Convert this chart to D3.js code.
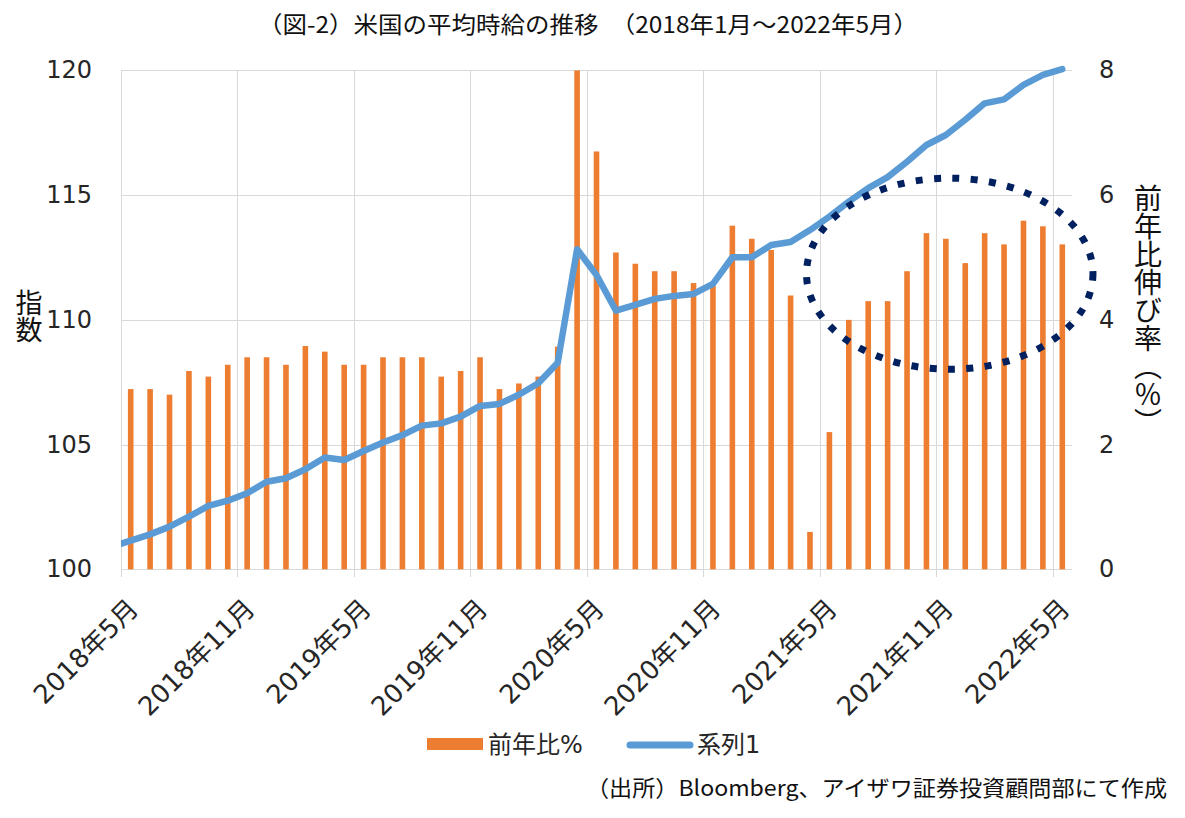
<!DOCTYPE html>
<html lang="ja">
<head>
  <meta charset="UTF-8">
  <title>米国の平均時給の推移</title>
  <script src="https://d3js.org/d3.v7.min.js"></script>
  <style>
    body { margin: 0; background: #fff; }
    svg { display: block; }
    .grid line { stroke: #d9d9d9; stroke-width: 1; shape-rendering: crispEdges; }
    .tick-label {
      font-family: "DejaVu Sans", "Noto Sans CJK JP", sans-serif;
      font-size: 24px;
      fill: #262626;
    }
    .x-label { font-size: 26px; }
    .jp {
      font-family: "Noto Sans CJK JP", sans-serif;
      fill: #111;
    }
    .vertical { writing-mode: vertical-rl; }
  </style>
</head>
<body>
  <svg width="1185" height="818"></svg>

  <script>
    // monthly categories (bars), 2018/5 - 2022/5
    const months = [
      "2018-05","2018-06","2018-07","2018-08","2018-09","2018-10","2018-11","2018-12",
      "2019-01","2019-02","2019-03","2019-04","2019-05","2019-06","2019-07","2019-08",
      "2019-09","2019-10","2019-11","2019-12","2020-01","2020-02","2020-03","2020-04",
      "2020-05","2020-06","2020-07","2020-08","2020-09","2020-10","2020-11","2020-12",
      "2021-01","2021-02","2021-03","2021-04","2021-05","2021-06","2021-07","2021-08",
      "2021-09","2021-10","2021-11","2021-12","2022-01","2022-02","2022-03","2022-04",
      "2022-05"
    ];

    // 前年比% (right axis)
    const wageYoY = [
      2.89, 2.89, 2.80, 3.18, 3.09, 3.28, 3.40, 3.40,
      3.28, 3.58, 3.49, 3.28, 3.28, 3.40, 3.40, 3.40,
      3.09, 3.18, 3.40, 2.89, 2.98, 3.09, 3.57, 8.00,
      6.70, 5.08, 4.90, 4.78, 4.78, 4.59, 4.55, 5.51,
      5.30, 5.12, 4.39, 0.60, 2.20, 4.00, 4.30, 4.30,
      4.78, 5.39, 5.30, 4.91, 5.39, 5.21, 5.59, 5.50,
      5.21
    ];

    // 系列1 (left axis index), starts one month before the axis and gets clipped
    const lineMonths = ["2018-04"].concat(months);
    const wageIndex = [
      100.90,
      101.15, 101.40, 101.71, 102.11, 102.54, 102.75, 103.05, 103.51,
      103.65, 104.01, 104.48, 104.38, 104.74, 105.08, 105.38, 105.76,
      105.85, 106.12, 106.55, 106.63, 107.00, 107.46, 108.28, 112.83,
      111.80, 110.37, 110.60, 110.84, 110.96, 111.04, 111.44, 112.51,
      112.51, 113.00, 113.12, 113.60, 114.14, 114.74, 115.28, 115.72,
      116.34, 117.01, 117.41, 118.02, 118.68, 118.84, 119.42, 119.82,
      120.05
    ];

    const leftTicks = [100, 105, 110, 115, 120];
    const rightTicks = [0, 2, 4, 6, 8];
    const xTickLabels = ["2018年5月", "2018年11月", "2019年5月", "2019年11月", "2020年5月",
                         "2020年11月", "2021年5月", "2021年11月", "2022年5月"];

    // dotted highlight, in month index / left axis units
    const highlight = [{ cx: 42.7, cy: 111.85, rx: 7.38, ry: 3.83 }];

    const svg = d3.select("svg");
    const plot = { left: 121, right: 1072, top: 70.4, bottom: 569.3 };

    // month offset from 2018-05
    function monthPos(m) {
      const [y, mo] = m.split("-").map(Number);
      return (y - 2018) * 12 + (mo - 5);
    }

    const x = d3.scaleLinear().domain([0, months.length]).range([plot.left, plot.right]);
    const yL = d3.scaleLinear().domain([100, 120]).range([plot.bottom, plot.top]);
    const yR = d3.scaleLinear().domain([0, 8]).range([plot.bottom, plot.top]);

    svg.append("defs").append("clipPath").attr("id", "plot-clip")
      .append("rect")
      .attr("x", plot.left).attr("y", plot.top - 10)
      .attr("width", plot.right - plot.left).attr("height", plot.bottom - plot.top + 10);

    // gridlines
    const grid = svg.append("g").attr("class", "grid");
    grid.selectAll(".hline")
      .data(leftTicks)
      .enter().append("line")
      .attr("x1", plot.left).attr("x2", plot.right)
      .attr("y1", d => Math.round(yL(d)) + 0.5).attr("y2", d => Math.round(yL(d)) + 0.5);

    grid.selectAll(".vline")
      .data(xTickLabels)
      .enter().append("line")
      .attr("x1", (d, i) => Math.round(x(i * 6)) + 0.5)
      .attr("x2", (d, i) => Math.round(x(i * 6)) + 0.5)
      .attr("y1", plot.top).attr("y2", plot.bottom + 8);

    // bars
    const barW = 5.6;
    svg.append("g")
      .selectAll("rect")
      .data(wageYoY)
      .enter().append("rect")
      .attr("x", (d, i) => x(i + 0.5) - barW / 2)
      .attr("y", d => yR(d))
      .attr("width", barW)
      .attr("height", d => yR(0) - yR(d))
      .attr("fill", "#ed7d31");

    // index line
    const line = d3.line()
      .x(d => x(monthPos(d.m) + 0.5))
      .y(d => yL(d.v));

    svg.append("path")
      .datum(lineMonths.map((m, i) => ({ m: m, v: wageIndex[i] })))
      .attr("clip-path", "url(#plot-clip)")
      .attr("d", line)
      .attr("fill", "none")
      .attr("stroke", "#5b9bd5")
      .attr("stroke-width", 6.5)
      .attr("stroke-linejoin", "round")
      .attr("stroke-linecap", "round");

    // dotted ellipse
    svg.selectAll(".highlight")
      .data(highlight)
      .enter().append("ellipse")
      .attr("cx", d => x(d.cx))
      .attr("cy", d => yL(d.cy))
      .attr("rx", d => x(d.rx) - x(0))
      .attr("ry", d => yL(100) - yL(100 + d.ry))
      .attr("fill", "none")
      .attr("stroke", "#002060")
      .attr("stroke-width", 7)
      .attr("stroke-dasharray", "7 11.4");

    // left axis labels
    svg.append("g")
      .selectAll("text")
      .data(leftTicks)
      .enter().append("text")
      .attr("class", "tick-label")
      .attr("x", 92)
      .attr("y", d => yL(d))
      .attr("text-anchor", "end")
      .attr("dominant-baseline", "central")
      .text(d => d);

    // right axis labels
    svg.append("g")
      .selectAll("text")
      .data(rightTicks)
      .enter().append("text")
      .attr("class", "tick-label")
      .attr("x", 1099)
      .attr("y", d => yR(d))
      .attr("dominant-baseline", "central")
      .text(d => d);

    // x axis labels, rotated
    svg.append("g")
      .selectAll("text")
      .data(xTickLabels)
      .enter().append("text")
      .attr("class", "tick-label x-label")
      .attr("text-anchor", "end")
      .attr("dominant-baseline", "central")
      .attr("transform", (d, i) => `translate(${x(i * 6) + 12.5},604) rotate(-45)`)
      .text(d => d);

    // axis titles
    svg.append("text")
      .attr("class", "jp vertical")
      .attr("x", 29).attr("y", 289)
      .style("font-size", "27px")
      .text("指数");

    svg.append("text")
      .attr("class", "jp vertical")
      .attr("x", 1148).attr("y", 184)
      .style("font-size", "28px")
      .text("前年比伸び率（％）");

    // title
    svg.append("text")
      .attr("class", "jp")
      .attr("x", 258).attr("y", 33)
      .attr("textLength", 660)
      .attr("lengthAdjust", "spacingAndGlyphs")
      .style("font-size", "23px")
      .text("（図-2）米国の平均時給の推移　（2018年1月～2022年5月）");

    // legend
    const legend = svg.append("g");
    legend.append("rect")
      .attr("x", 427).attr("y", 738).attr("width", 56).attr("height", 12)
      .attr("fill", "#ed7d31");
    legend.append("text")
      .attr("class", "tick-label")
      .attr("x", 488).attr("y", 753)
      .text("前年比%");
    legend.append("line")
      .attr("x1", 630).attr("x2", 690).attr("y1", 745).attr("y2", 745)
      .attr("stroke", "#5b9bd5").attr("stroke-width", 7).attr("stroke-linecap", "round");
    legend.append("text")
      .attr("class", "tick-label")
      .attr("x", 697).attr("y", 753)
      .text("系列1");

    // source
    svg.append("text")
      .attr("class", "jp")
      .attr("x", 586).attr("y", 796)
      .attr("textLength", 581)
      .attr("lengthAdjust", "spacingAndGlyphs")
      .style("font-size", "22px")
      .text("（出所）Bloomberg、アイザワ証券投資顧問部にて作成");
  </script>
</body>
</html>
